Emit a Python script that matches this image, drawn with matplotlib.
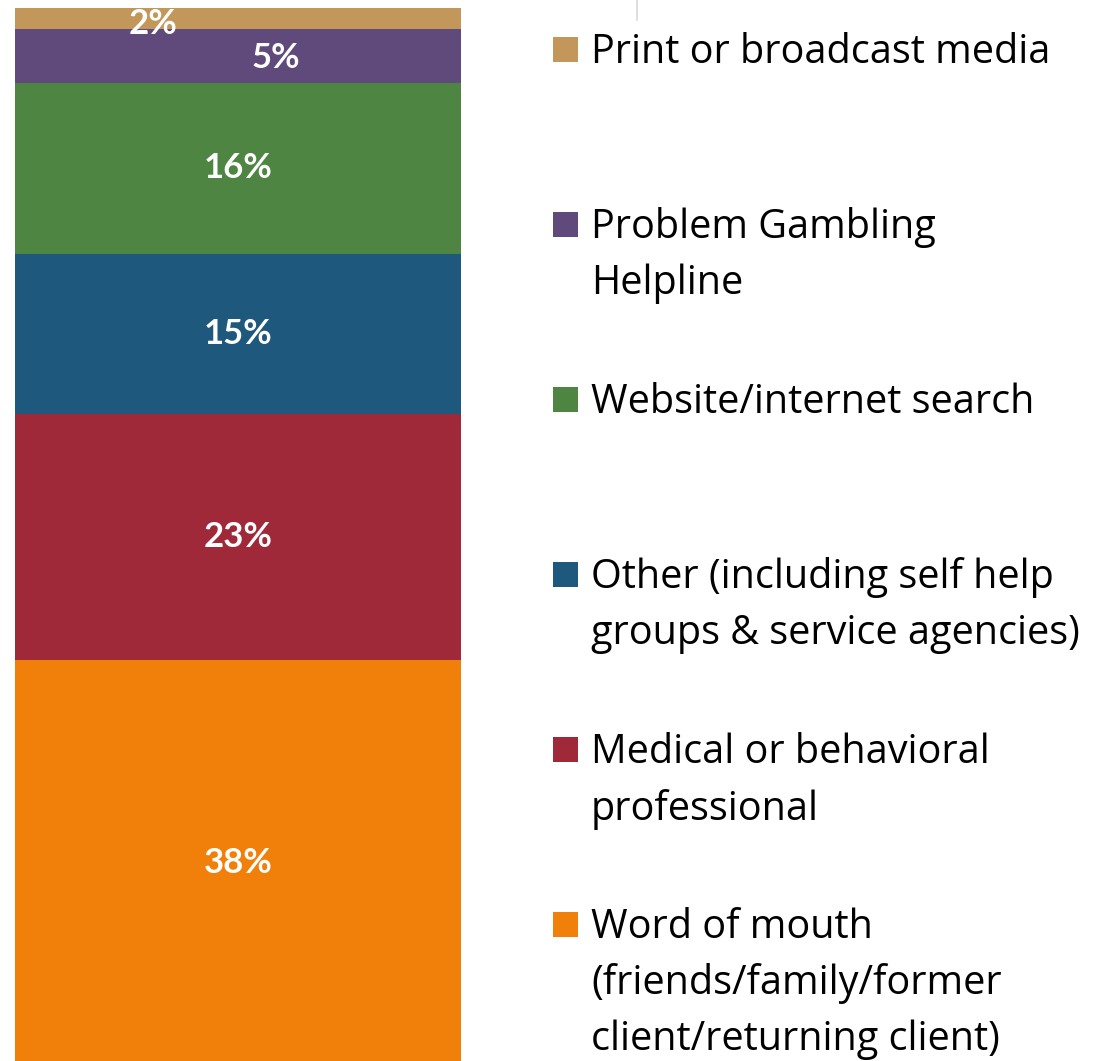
import numpy as np
import matplotlib.pyplot as plt
from matplotlib.patches import Rectangle
from matplotlib.lines import Line2D

# referral sources, bottom of the stack first
sources = [
    ["Word of mouth", "(friends/family/former", "client/returning client)"],
    ["Medical or behavioral", "professional"],
    ["Other (including self help", "groups & service agencies)"],
    ["Website/internet search"],
    ["Problem Gambling", "Helpline"],
    ["Print or broadcast media"],
]
shares = [38, 23, 15, 16, 5, 2]
colors = ["#F0800A", "#A02939", "#1E587C", "#4E8542", "#604A7B", "#C3975A"]
# label offsets (Excel nudged the two small ones)
label_dx = [0, 0, 0, 0, 0.085, -0.19]
label_dy = [0, 0, 0, 0, -0.2, -0.5]

W, H = 1094, 1061
fig = plt.figure(figsize=(W / 100, H / 100), dpi=100)

# axes spans the bar only
ax = fig.add_axes([15 / W, 0, 446 / W, 1 - 8 / H])
bottoms = np.concatenate([[0], np.cumsum(shares)[:-1]])
ax.bar(0, shares, bottom=bottoms, width=1, color=colors, linewidth=0)
ax.set_xlim(-0.5, 0.5)
ax.set_ylim(0.5, sum(shares))
ax.axis("off")

for b, v, dx, dy in zip(bottoms, shares, label_dx, label_dy):
    ax.text(dx, b + v / 2 + dy, f"{v}%", ha="center", va="center",
            color="white", fontsize=25, fontweight="bold", family="Lato")

# faint vertical rule at the top
fig.add_artist(Line2D([637 / W, 637 / W], [1, 1 - 20 / H], color="#d9d9d9", lw=1.2))

# legend drawn by hand, top entry first
y0, step, line_step = 50, 175, 56
for i, (lines, c) in enumerate(zip(sources[::-1], colors[::-1])):
    yc = y0 + i * step
    fig.add_artist(Rectangle((553 / W, 1 - (yc + 12) / H), 25 / W, 25 / H,
                             facecolor=c, edgecolor="none", transform=fig.transFigure))
    for j, line in enumerate(lines):
        fig.text(591 / W, 1 - (yc + 3 + j * line_step) / H, line, ha="left", va="center",
                 fontsize=28.5, family="Open Sans", color="black")

fig.savefig("out.png", dpi=100)
